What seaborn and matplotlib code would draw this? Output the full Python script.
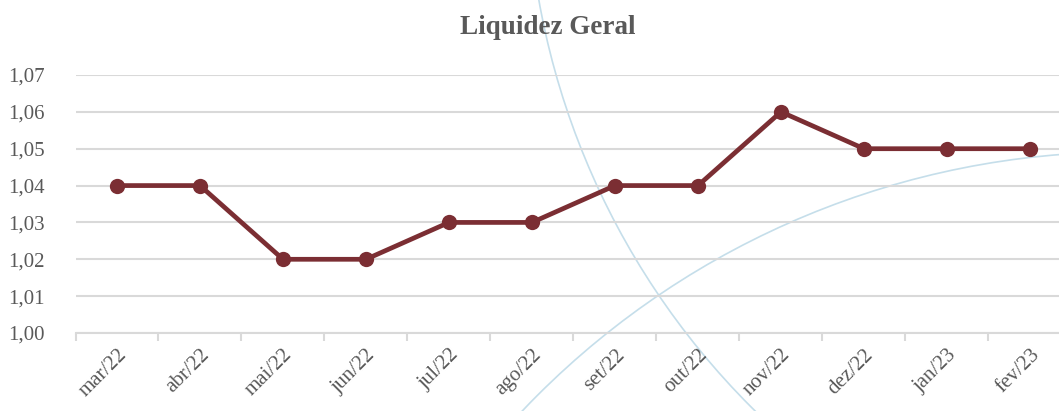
import matplotlib
matplotlib.use("Agg")
import matplotlib.pyplot as plt
import matplotlib.patches as mpatches
from matplotlib.ticker import FuncFormatter, FixedLocator
import seaborn as sns
import pandas as pd

# data
months = ["mar/22", "abr/22", "mai/22", "jun/22", "jul/22", "ago/22",
          "set/22", "out/22", "nov/22", "dez/22", "jan/23", "fev/23"]
liquidez = [1.04, 1.04, 1.02, 1.02, 1.03, 1.03, 1.04, 1.04, 1.06, 1.05, 1.05, 1.05]
y_ticks = [1.00, 1.01, 1.02, 1.03, 1.04, 1.05, 1.06, 1.07]

sns.set_style("white")
plt.rcParams["font.family"] = ["Liberation Serif", "DejaVu Serif"]

TEXT = "#595959"
LINE = "#7B2E33"
GRID = "#D9D9D9"
ARC = "#C5DEEA"

W, H = 1059, 411
fig = plt.figure(figsize=(W / 100, H / 100), dpi=100)

# decorative background arcs (pixel coordinates)
bg = fig.add_axes([0, 0, 1, 1], zorder=0)
bg.set_xlim(0, W)
bg.set_ylim(H, 0)
bg.axis("off")
bg.add_patch(mpatches.Circle((1292, -134), 765, fill=False, color=ARC, lw=1.2))
bg.add_patch(mpatches.Circle((1125, 983), 831, fill=False, color=ARC, lw=1.2))

ax = fig.add_axes([75.5 / W, 78 / H, 996 / W, 258 / H], zorder=1)
ax.patch.set_alpha(0)

df = pd.DataFrame({"mes": months, "valor": liquidez})
sns.lineplot(data=df, x="mes", y="valor", ax=ax, color=LINE, lw=3.4,
             marker="o", markersize=11, markeredgewidth=0, zorder=3)

ax.set_xlim(-0.5, len(months) - 0.5)
ax.set_ylim(1.00, 1.07)
ax.set_yticks(y_ticks)
ax.yaxis.set_major_formatter(FuncFormatter(lambda v, p: f"{v:.2f}".replace(".", ",")))
ax.grid(axis="y", color=GRID, lw=1.5)
ax.set_axisbelow(True)

ax.set_xticks(range(len(months)))
ax.set_xticklabels(months, rotation=45, ha="right", rotation_mode="anchor")
ax.xaxis.set_minor_locator(FixedLocator([i - 0.5 for i in range(len(months) + 1)]))
ax.tick_params(axis="x", which="major", bottom=True, length=0, pad=9,
               labelsize=15, labelcolor=TEXT)
ax.tick_params(axis="x", which="minor", bottom=True, length=6, width=1.5,
               color=GRID, direction="out")
ax.tick_params(axis="y", length=0, pad=22, labelsize=15, labelcolor=TEXT)
ax.set_xlabel("")
ax.set_ylabel("")

for side in ["top", "right", "left"]:
    ax.spines[side].set_visible(False)
ax.spines["bottom"].set_color(GRID)
ax.spines["bottom"].set_linewidth(1.5)

fig.text(548 / W, 1 - 27 / H, "Liquidez Geral", ha="center", va="center",
         fontsize=19.5, fontweight="bold", color=TEXT)

fig.savefig("out.png", dpi=100)
plt.close(fig)
